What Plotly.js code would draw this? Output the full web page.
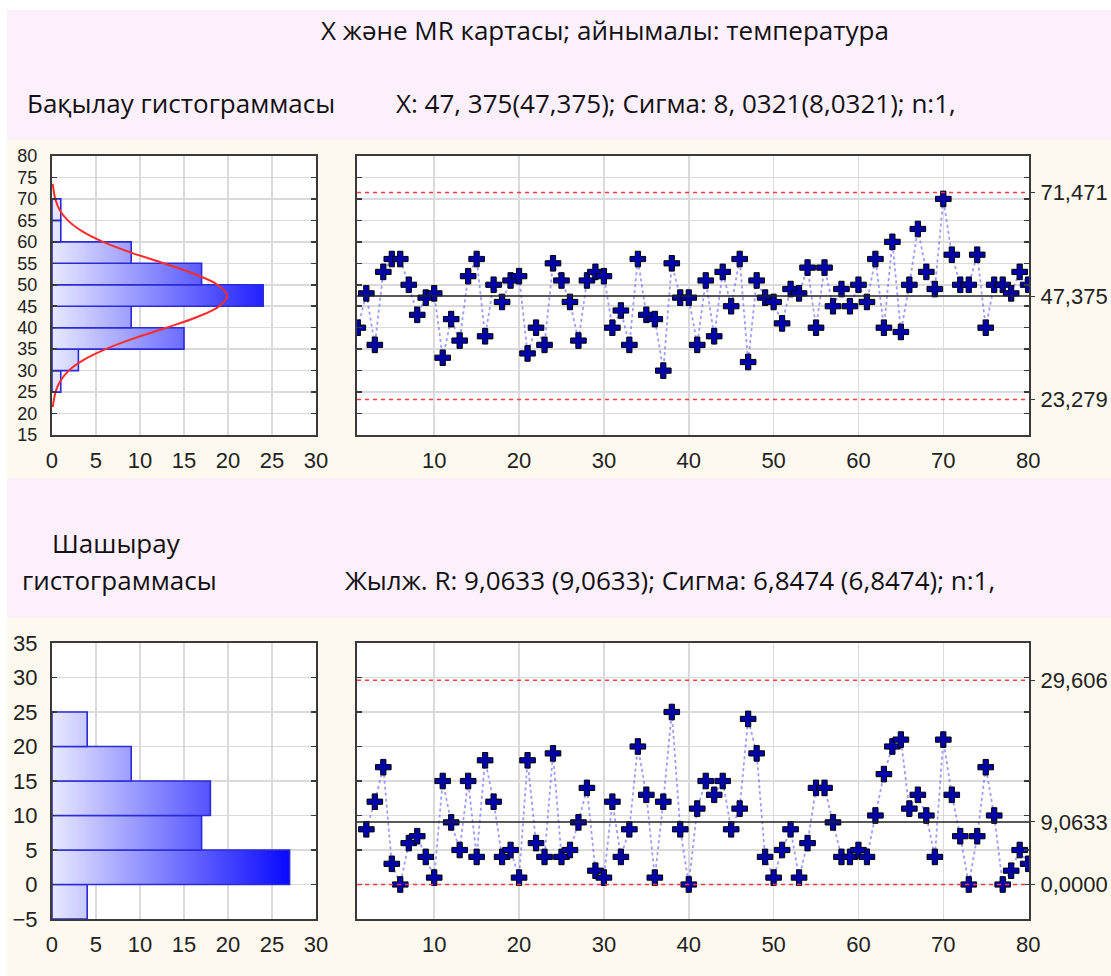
<!DOCTYPE html>
<html>
<head>
<meta charset="utf-8">
<script src="https://cdn.plot.ly/plotly-3.0.1.min.js"></script>
<style>html,body{margin:0;padding:0;background:#fff;}#chart{width:1111px;height:976px;}</style>
</head>
<body>
<div id="chart"></div>
<script>
// ---------- data ----------
const obsIndex = [1,2,3,4,5,6,7,8,9,10,11,12,13,14,15,16,17,18,19,20,21,22,23,24,25,26,27,28,29,30,31,32,33,34,35,36,37,38,39,40,41,42,43,44,45,46,47,48,49,50,51,52,53,54,55,56,57,58,59,60,61,62,63,64,65,66,67,68,69,70,71,72,73,74,75,76,77,78,79,80];
const temperature = [40,48,36,53,56,56,50,43,47,48, 33,42,37,52,56,38,50,46,51,52, 34,40,36,55,51,46,37,51,53,52, 40,44,36,56,43,42,30,55,47,47, 36,51,38,53,45,56,32,51,47,46, 41,49,48,54,40,54,45,49,45,50, 46,56,40,60,39,50,63,53,49,70, 57,50,50,57,40,50,50,48,53,50];
const mrIndex = [2,3,4,5,6,7,8,9,10,11,12,13,14,15,16,17,18,19,20,21,22,23,24,25,26,27,28,29,30,31,32,33,34,35,36,37,38,39,40,41,42,43,44,45,46,47,48,49,50,51,52,53,54,55,56,57,58,59,60,61,62,63,64,65,66,67,68,69,70,71,72,73,74,75,76,77,78,79,80];
const movingRange = [8,12,17,3,0,6,7,4,1,15, 9,5,15,4,18,12,4,5,1,18, 6,4,19,4,5,9,14,2,1,12, 4,8,20,13,1,12,25,8,0,11, 15,13,15,8,11,24,19,4,1,5, 8,1,6,14,14,9,4,4,5,4, 10,16,20,21,11,13,10,4,21,13, 7,0,7,17,10,0,2,5,3];

const xLimits = {ucl: 71.471, cl: 47.375, lcl: 23.279};
const mrLimits = {ucl: 29.606, cl: 9.0633, lcl: 0};
const xLimitLabels = ['23,279','47,375','71,471'];
const mrLimitLabels = ['0,0000','9,0633','29,606'];

const tempBinLow  = [25,30,35,40,45,50,55,60,65];
const tempBinHigh = [30,35,40,45,50,55,60,65,70];
const tempCounts  = [1,3,15,9,24,17,9,1,1];

const mrBinLow  = [-5,0,5,10,15,20];
const mrBinHigh = [0,5,10,15,20,25];
const mrCounts  = [4,27,17,18,9,4];

// normal curve (temperature value, frequency)
const curveTemp = [21.5,22.5,25,27.5,30,32.5,35,37.5,40,42.5,45,47.5,50,52.5,55,57.5,60,62.5,65,67.5,70,72.5,73.5];
const curveFreq = [0.08,0.16,0.4,0.93,1.9,3.6,6.1,9.3,13.0,16.5,19.0,19.9,18.8,16.2,12.7,9.0,5.8,3.4,1.8,0.86,0.37,0.15,0.08];

const titleText = 'X және MR картасы; айнымалы: температура';
const hist1Text = 'Бақылау гистограммасы';
const stat1Text = 'X: 47, 375(47,375); Сигма: 8, 0321(8,0321); n:1,';
const hist2Text1 = 'Шашырау';
const hist2Text2 = 'гистограммасы';
const stat2Text = 'Жылж. R: 9,0633 (9,0633); Сигма: 6,8474 (6,8474); n:1,';

// ---------- styles ----------
const W = 1111, H = 976;
const px = v => v / W, py = v => 1 - v / H;
const axisLine = '#3a3a3a';
const gridCol = '#dadada';
const tickFont = {family: 'Liberation Sans, Arial, sans-serif', size: 22, color: '#222'};
const denseTickFont = {family: 'Liberation Sans, Arial, sans-serif', size: 18, color: '#222'};
const headFont = {family: 'Open Sans, sans-serif', size: 26, color: '#111'};
const grad = {type: 'horizontal', start: 0, stop: 28, colorscale: [[0, '#e8e9ff'], [1, '#0000ff']]};

const traces = [];
function addBars(lows, highs, counts, xa, ya) {
  for (let i = 0; i < counts.length; i++) {
    traces.push({
      type: 'scatter', mode: 'lines', xaxis: xa, yaxis: ya,
      x: [0, counts[i], counts[i], 0, 0],
      y: [lows[i], lows[i], highs[i], highs[i], lows[i]],
      fill: 'toself', fillgradient: grad, fillcolor: '#8888ff',
      line: {color: '#2b2bd6', width: 1.6}, hoverinfo: 'skip', showlegend: false
    });
  }
}
addBars(tempBinLow, tempBinHigh, tempCounts, 'x', 'y');
traces.push({type: 'scatter', mode: 'lines', x: curveFreq, y: curveTemp, xaxis: 'x', yaxis: 'y',
  line: {color: '#ff2a2a', width: 2, shape: 'spline'}, showlegend: false});
addBars(mrBinLow, mrBinHigh, mrCounts, 'x3', 'y3');

const markerStyle = {symbol: 'cross', size: 13, color: '#0000a8', line: {color: '#000', width: 1}};
const lineStyle = {color: 'rgba(90,90,255,0.6)', width: 1.8, dash: 'dot'};
traces.push({type: 'scatter', mode: 'lines+markers', x: obsIndex, y: temperature, xaxis: 'x2', yaxis: 'y2',
  line: lineStyle, marker: markerStyle, showlegend: false});
traces.push({type: 'scatter', mode: 'lines+markers', x: mrIndex, y: movingRange, xaxis: 'x4', yaxis: 'y4',
  line: lineStyle, marker: markerStyle, showlegend: false});
// invisible traces to activate right-side label axes
traces.push({type: 'scatter', mode: 'markers', x: [null], y: [null], xaxis: 'x2', yaxis: 'y5', showlegend: false, hoverinfo: 'skip'});
traces.push({type: 'scatter', mode: 'markers', x: [null], y: [null], xaxis: 'x4', yaxis: 'y6', showlegend: false, hoverinfo: 'skip'});

const histX = [0.0468, 0.2844];
const mainX = [px(357), px(1029)];
const topY = [py(435), py(156)];
const botY = [py(919), py(643)];

function baseAxis(extra) {
  return Object.assign({
    showline: true, linecolor: axisLine, linewidth: 2, mirror: true,
    showgrid: true, gridcolor: gridCol, gridwidth: 1.5, zeroline: false,
    tickfont: tickFont, fixedrange: true
  }, extra);
}

const layout = {
  width: W, height: H,
  margin: {l: 0, r: 0, t: 0, b: 0},
  paper_bgcolor: '#fdf9ee', plot_bgcolor: '#ffffff',
  showlegend: false,
  xaxis: baseAxis({domain: histX, anchor: 'y', range: [0, 30], tickvals: [0,5,10,15,20,25,30], ticks: '', ticklabelstandoff: 5}),
  yaxis: baseAxis({domain: topY, anchor: 'x', range: [15, 80], dtick: 5, tick0: 15, ticks: 'inside', ticklen: 5, tickcolor: axisLine, tickwidth: 1.5, mirror: 'ticks', ticklabelstandoff: 9, tickfont: denseTickFont}),
  xaxis2: baseAxis({domain: mainX, anchor: 'y2', range: [0.9, 80.1], tickvals: [10,20,30,40,50,60,70,80], ticks: '', ticklabelstandoff: 5}),
  yaxis2: baseAxis({domain: topY, anchor: 'x2', range: [15, 80], dtick: 5, tick0: 15, ticks: 'inside', ticklen: 5, tickcolor: axisLine, tickwidth: 1.5, mirror: 'ticks', showticklabels: false}),
  xaxis3: baseAxis({domain: histX, anchor: 'y3', range: [0, 30], tickvals: [0,5,10,15,20,25,30], ticks: '', ticklabelstandoff: 5}),
  yaxis3: baseAxis({domain: botY, anchor: 'x3', range: [-5, 35], dtick: 5, tick0: -5, ticks: 'inside', ticklen: 5, tickcolor: axisLine, tickwidth: 1.5, mirror: 'ticks', ticklabelstandoff: 8}),
  xaxis4: baseAxis({domain: mainX, anchor: 'y4', range: [0.9, 80.1], tickvals: [10,20,30,40,50,60,70,80], ticks: '', ticklabelstandoff: 5}),
  yaxis4: baseAxis({domain: botY, anchor: 'x4', range: [-5, 35], dtick: 5, tick0: -5, ticks: 'inside', ticklen: 5, tickcolor: axisLine, tickwidth: 1.5, mirror: 'ticks', showticklabels: false}),
  yaxis5: {overlaying: 'y2', side: 'right', anchor: 'x2', range: [15, 80], tickvals: [xLimits.lcl, xLimits.cl, xLimits.ucl], ticktext: xLimitLabels,
    showgrid: false, zeroline: false, showline: false, ticks: 'outside', ticklen: 5, tickcolor: axisLine, tickfont: tickFont, ticklabelstandoff: 1, fixedrange: true},
  yaxis6: {overlaying: 'y4', side: 'right', anchor: 'x4', range: [-5, 35], tickvals: [mrLimits.lcl, mrLimits.cl, mrLimits.ucl], ticktext: mrLimitLabels,
    showgrid: false, zeroline: false, showline: false, ticks: 'outside', ticklen: 5, tickcolor: axisLine, tickfont: tickFont, ticklabelstandoff: 1, fixedrange: true},
  shapes: [
    {type: 'rect', xref: 'paper', yref: 'paper', x0: 0, x1: 1, y0: py(10), y1: 1, fillcolor: '#ffffff', line: {width: 0}, layer: 'below'},
    {type: 'rect', xref: 'paper', yref: 'paper', x0: 0, x1: px(7), y0: 0, y1: 1, fillcolor: '#ffffff', line: {width: 0}, layer: 'below'},
    {type: 'rect', xref: 'paper', yref: 'paper', x0: px(7), x1: 1, y0: py(140), y1: py(10), fillcolor: '#fdf0fd', line: {width: 0}, layer: 'below'},
    {type: 'rect', xref: 'paper', yref: 'paper', x0: px(7), x1: 1, y0: py(618), y1: py(478), fillcolor: '#fdf0fd', line: {width: 0}, layer: 'below'},
    {type: 'line', xref: 'x2 domain', yref: 'y2', x0: 0, x1: 1, y0: xLimits.ucl, y1: xLimits.ucl, line: {color: '#ff3b3b', width: 1.5, dash: '4px,4px'}},
    {type: 'line', xref: 'x2 domain', yref: 'y2', x0: 0, x1: 1, y0: xLimits.cl, y1: xLimits.cl, line: {color: '#222', width: 1.5}},
    {type: 'line', xref: 'x2 domain', yref: 'y2', x0: 0, x1: 1, y0: xLimits.lcl, y1: xLimits.lcl, line: {color: '#ff3b3b', width: 1.5, dash: '4px,4px'}},
    {type: 'line', xref: 'x4 domain', yref: 'y4', x0: 0, x1: 1, y0: mrLimits.ucl, y1: mrLimits.ucl, line: {color: '#ff3b3b', width: 1.5, dash: '4px,4px'}},
    {type: 'line', xref: 'x4 domain', yref: 'y4', x0: 0, x1: 1, y0: mrLimits.cl, y1: mrLimits.cl, line: {color: '#222', width: 1.5}},
    {type: 'line', xref: 'x4 domain', yref: 'y4', x0: 0, x1: 1, y0: mrLimits.lcl, y1: mrLimits.lcl, line: {color: '#ff3b3b', width: 1.5, dash: '4px,4px'}}
  ],
  annotations: [
    {text: titleText, xref: 'paper', yref: 'paper', x: px(605), y: py(30), xanchor: 'center', yanchor: 'middle', showarrow: false, font: headFont},
    {text: hist1Text, xref: 'paper', yref: 'paper', x: px(25), y: py(103), xanchor: 'left', yanchor: 'middle', showarrow: false, font: headFont},
    {text: stat1Text, xref: 'paper', yref: 'paper', x: px(394), y: py(103), xanchor: 'left', yanchor: 'middle', showarrow: false, font: headFont},
    {text: hist2Text1, xref: 'paper', yref: 'paper', x: px(50), y: py(543), xanchor: 'left', yanchor: 'middle', showarrow: false, font: headFont},
    {text: hist2Text2, xref: 'paper', yref: 'paper', x: px(20), y: py(580), xanchor: 'left', yanchor: 'middle', showarrow: false, font: headFont},
    {text: stat2Text, xref: 'paper', yref: 'paper', x: px(343), y: py(580), xanchor: 'left', yanchor: 'middle', showarrow: false, font: headFont}
  ]
};

Plotly.newPlot('chart', traces, layout, {staticPlot: true, displayModeBar: false});
</script>
</body>
</html>
